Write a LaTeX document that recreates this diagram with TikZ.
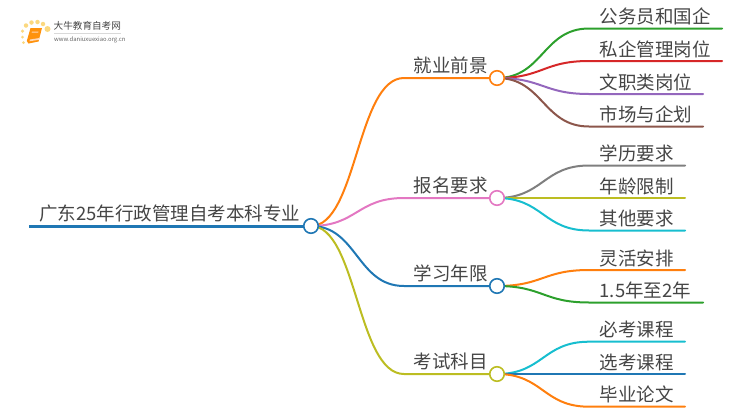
\documentclass[tikz,border=0pt]{standalone}
\usepackage{fontspec}
\setmainfont{Noto Sans CJK SC}
\usetikzlibrary{backgrounds}
\definecolor{cOrange}{HTML}{FF7F0E}
\definecolor{cPink}{HTML}{E377C2}
\definecolor{cBlue}{HTML}{1F77B4}
\definecolor{cOlive}{HTML}{BCBD22}
\definecolor{cGreen}{HTML}{2CA02C}
\definecolor{cRed}{HTML}{D62728}
\definecolor{cPurple}{HTML}{9467BD}
\definecolor{cBrown}{HTML}{8C564B}
\definecolor{cGray}{HTML}{7F7F7F}
\definecolor{cCyan}{HTML}{17BECF}
\definecolor{cText}{HTML}{454545}
\definecolor{cDot}{HTML}{FBD87F}
\tikzset{
  hub/.style={circle,draw=#1,fill=white,line width=1.6pt,minimum size=14.5pt,inner sep=0pt},
  link/.style={draw=#1,line width=2pt,line cap=round},
  lab/.style={anchor=base west,inner sep=0pt,text=cText,font=\fontsize{18.5pt}{20pt}\selectfont},
  dot/.style={circle,fill=cDot,inner sep=0pt,minimum size=#1}
}
\newcommand{\branch}[4]{% name, colour, y, text
  \node[hub=#2] (#1) at (497,#3) {};
  \coordinate (#1s) at (404,#3);
  \node[lab] (#1t) at (413.5,#3-6) {#4};
  \begin{scope}[on background layer]
    \draw[link=#2] (root.center) .. controls (357,226) and (357,#3) .. (#1s) -- (#1.center);
  \end{scope}
}
\newcommand{\leaf}[6]{% name, parent, colour, y, xend, text
  \coordinate (#1s) at (589,#4);
  \coordinate (#1e) at (#5,#4);
  \coordinate (#1m) at (543,#4);
  \node[lab] (#1t) at (599.5,#4-5) {#6};
  \begin{scope}[on background layer]
    \draw[link=#3] (#2.center) .. controls (#1m |- #2.center) and (#1m) .. (#1s) -- (#1e);
  \end{scope}
}
\begin{document}
\begin{tikzpicture}[x=1pt,y=-1pt]
\useasboundingbox (0,0) rectangle (750,410);
% logo
\node[dot=3pt] (d1) at (23.5,42.5) {};
\node[dot=3pt] (d2) at (22.5,37) {};
\node[dot=3.5pt] (d3) at (22.5,31) {};
\node[dot=4.5pt] (d4) at (26,25.5) {};
\node[dot=4.5pt] (d5) at (31.5,22.5) {};
\node[dot=4.5pt] (d6) at (37.5,22) {};
\node[dot=4.5pt] (d7) at (43,24) {};
\node[dot=6pt] (d8) at (47.5,29) {};
\fill[cOrange!85!yellow] (30.5,28) -- (42,28) -- (38.5,41.5) -- (28.5,43.5) -- (26.8,41) -- cycle;
\fill[white!70!cOrange] (30,39.5) -- (39.5,38) -- (38.8,39.8) -- (29.5,41.3) -- cycle;
\fill[white!70!cOrange] (32,31.5) -- (38.5,31.5) -- (38.2,32.6) -- (31.7,32.6) -- cycle;
\node[anchor=base west,inner sep=0pt,text=cText,font=\fontsize{9.6pt}{10pt}\selectfont] (logoa) at (53.5,29.5) {大牛教育自考网};
\draw[black!15,line width=.6pt] (54,33.2) -- (121,33.2);
\node[anchor=base west,inner sep=0pt,text=black!60,font=\fontsize{5.9pt}{6pt}\selectfont] (logob) at (54,41) {www.daniuxuexiao.org.cn};
% root
\node[hub=cBlue] (root) at (311,226) {};
\coordinate (roots) at (29,226);
\node[lab] (roott) at (39,220) {广东25年行政管理自考本科专业};
\begin{scope}[on background layer]
  \draw[link=cBlue,line width=3pt,line cap=butt] (roots) -- (root.center);
\end{scope}
% branches
\branch{a}{cOrange}{78}{就业前景}
\branch{b}{cPink}{198}{报名要求}
\branch{c}{cBlue}{286}{学习年限}
\branch{d}{cOlive}{374}{考试科目}
% leaves
\leaf{a1}{a}{cGreen}{28.5}{722}{公务员和国企}
\leaf{a2}{a}{cRed}{61}{722}{私企管理岗位}
\leaf{a3}{a}{cPurple}{94}{703}{文职类岗位}
\leaf{a4}{a}{cBrown}{126.5}{703}{市场与企划}
\leaf{b1}{b}{cGray}{165.5}{685}{学历要求}
\leaf{b2}{b}{cOlive}{198}{685}{年龄限制}
\leaf{b3}{b}{cCyan}{230.5}{685}{其他要求}
\leaf{c1}{c}{cOrange}{270}{685}{灵活安排}
\leaf{c2}{c}{cGreen}{302.5}{703}{1.5年至2年}
\leaf{d1x}{d}{cCyan}{341.7}{685}{必考课程}
\leaf{d2x}{d}{cBlue}{374}{685}{选考课程}
\leaf{d3x}{d}{cOrange}{406.7}{685}{毕业论文}
\end{tikzpicture}
\end{document}
